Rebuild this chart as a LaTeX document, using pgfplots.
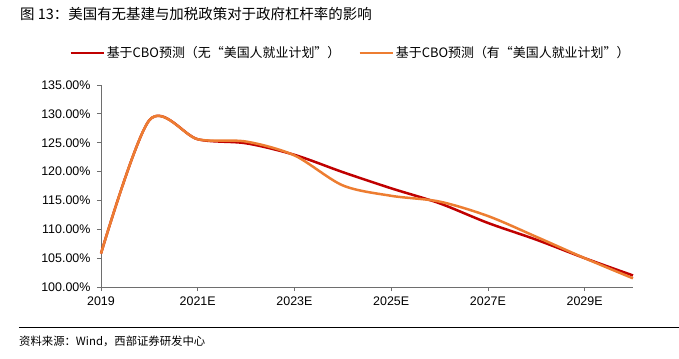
\documentclass[border=0pt]{standalone}
\usepackage{pgfplots}
\pgfplotsset{compat=1.18}
\usepackage{fontspec}
\setmainfont{Liberation Sans}
\newfontfamily\cjk{Noto Sans CJK SC}
\definecolor{cred}{RGB}{192,0,0}
\definecolor{corange}{RGB}{237,125,49}
\definecolor{axgray}{RGB}{110,110,110}
\begin{document}
\begin{tikzpicture}
\useasboundingbox (-101bp,-72bp) rectangle (578bp,287bp);
\begin{axis}[
  scale only axis,
  width=532bp, height=202bp,
  xmin=0, xmax=11, ymin=100, ymax=135,
  axis x line=bottom, axis y line=left,
  axis line style={-, axgray, line width=0.8bp},
  xtick={0,2,4,6,8,10},
  xticklabels={2019,2021E,2023E,2025E,2027E,2029E},
  ytick={100,105,...,135},
  yticklabel={\pgfmathprintnumber[fixed,fixed zerofill,precision=2]{\tick}\%},
  /pgf/number format/assume math mode=true,
  tick align=outside,
  major tick length=4bp,
  tick style={axgray, line width=0.8bp},
  ticklabel style={font=\fontsize{12.5}{14}\selectfont},
  yticklabel style={xshift=-3bp},
  xticklabel style={yshift=-2bp},
  clip=false,
  legend style={at={(-0.06,1.158)}, anchor=west, draw=none, fill=none,
    inner sep=0pt, legend columns=2,
    font=\cjk\fontsize{13}{15}\selectfont,
    /tikz/every even column/.append style={column sep=16bp}},
  legend image code/.code={\draw[#1] (0bp,0bp) -- (33bp,0bp);},
]
\addplot[cred, line width=2.5bp, smooth] coordinates {
(0,105.8) (1,128.9) (2,125.6) (3,124.9) (4,122.9) (5,119.9) (6,117.1) (7,114.5) (8,111.1) (9,108.2) (10,105.0) (11,102.0)};
\addlegendentry{基于CBO预测（无“美国人就业计划”）}
\addplot[corange, line width=2.5bp, smooth] coordinates {
(0,105.8) (1,128.9) (2,125.6) (3,125.2) (4,122.8) (5,117.6) (6,115.8) (7,114.8) (8,112.3) (9,108.7) (10,105.0) (11,101.5)};
\addlegendentry{基于CBO预测（有“美国人就业计划”）}
\end{axis}
\node[anchor=west, inner sep=0pt, font=\cjk\fontsize{14.5}{16}\selectfont] at (-81bp,273bp) {图 13：美国有无基建与加税政策对于政府杠杆率的影响};
\draw[black, line width=1bp] (-82bp,-40bp) -- (578bp,-40bp);
\node[anchor=west, inner sep=0pt, font=\cjk\fontsize{11.4}{13}\selectfont] at (-82bp,-54bp) {资料来源：Wind，西部证券研发中心};
\end{tikzpicture}
\end{document}
